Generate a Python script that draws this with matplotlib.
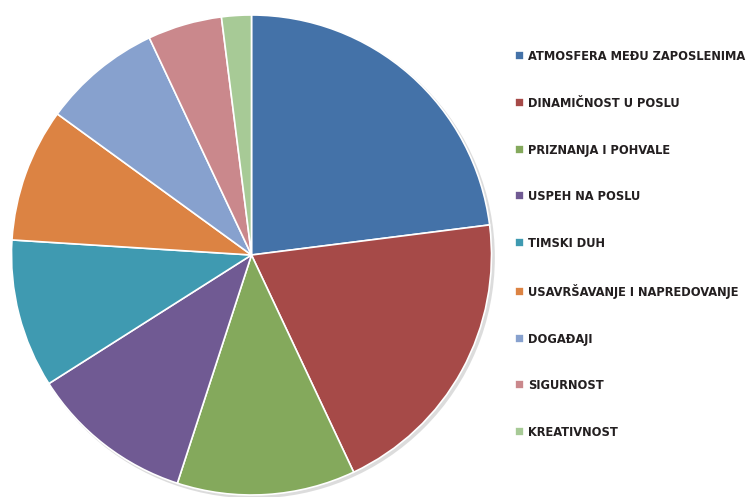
import matplotlib.pyplot as plt
from matplotlib.patches import Circle

labels = ["ATMOSFERA MEĐU ZAPOSLENIMA", "DINAMIČNOST U POSLU", "PRIZNANJA I POHVALE",
          "USPEH NA POSLU", "TIMSKI DUH", "USAVRŠAVANJE I NAPREDOVANJE",
          "DOGAĐAJI", "SIGURNOST", "KREATIVNOST"]
values = [23, 20, 12, 11, 10, 9, 8, 5, 2]
colors = ["#4472A8", "#A64A48", "#84A95C", "#705A93", "#3F9AB1",
          "#DC8343", "#87A1CE", "#CA888C", "#A7CA96"]

fig = plt.figure(figsize=(7.47, 4.97), dpi=100)
ax = fig.add_axes([11.5 / 747, 2 / 497, 480 / 747, 480 / 497])

# soft shadow behind the pie
ax.add_patch(Circle((0.01, -0.01), 1.004, color="#bbbbbb", alpha=0.5, zorder=0, lw=0,
                    clip_on=False))
wedges, _ = ax.pie(values, colors=colors, startangle=90, counterclock=False,
                   radius=1, wedgeprops=dict(edgecolor="white", linewidth=1.2, clip_on=False))
ax.set_xlim(-1, 1)
ax.set_ylim(-1, 1)
ax.set_aspect("equal")
ax.axis("off")

leg = fig.legend(wedges, labels, loc="upper left", bbox_to_anchor=(510 / 747, 1 - 45 / 497),
                 frameon=False, handlelength=0.7, handleheight=0.7, handletextpad=0.3,
                 labelspacing=2.64, borderaxespad=0,
                 prop=dict(family="DejaVu Sans", stretch="condensed", weight="bold", size=9.2))
for t in leg.get_texts():
    t.set_color("#231f20")

fig.savefig("out.png", dpi=100)
